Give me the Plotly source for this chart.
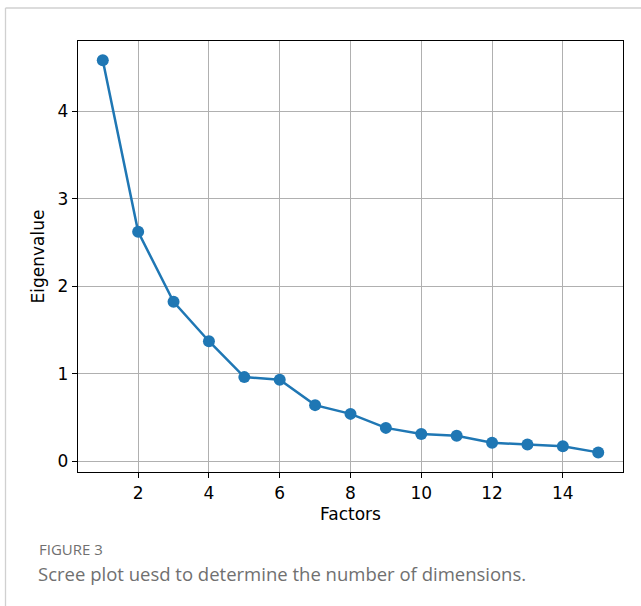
import plotly.graph_objects as go

factors = list(range(1, 16))
eigenvalues = [4.58, 2.62, 1.82, 1.37, 0.96, 0.93, 0.64, 0.54, 0.38, 0.31, 0.29, 0.21, 0.19, 0.17, 0.10]
x_ticks = [2, 4, 6, 8, 10, 12, 14]
y_ticks = [0, 1, 2, 3, 4]
caption_label = "FIGURE 3"
caption_text = "Scree plot uesd to determine the number of dimensions."

W, H = 641, 606
L, R, T, B = 78, 623, 41, 472
pw, ph = R - L, B - T

def px(x):
    return (x - L) / pw

def py(y):
    return (B - y) / ph

fig = go.Figure()
fig.add_trace(go.Scatter(
    x=factors, y=eigenvalues, mode="lines+markers",
    line=dict(color="#1f77b4", width=2.5),
    marker=dict(color="#1f77b4", size=12),
    showlegend=False,
))

axis_font = dict(family="DejaVu Sans", size=17, color="#000")
fig.update_xaxes(
    range=[0.3, 15.7], tickvals=x_ticks, ticktext=[str(v) for v in x_ticks],
    showgrid=True, gridcolor="#b0b0b0", gridwidth=1.3,
    showline=True, linecolor="#000", linewidth=1.3, mirror=True,
    ticks="outside", ticklen=5, tickwidth=1.2, tickcolor="#000",
    tickfont=axis_font, zeroline=False,
    title=dict(text="Factors", font=axis_font, standoff=6),
)
fig.update_yaxes(
    range=[-0.124, 4.8], tickvals=y_ticks, ticktext=[str(v) for v in y_ticks],
    showgrid=True, gridcolor="#b0b0b0", gridwidth=1.3,
    showline=True, linecolor="#000", linewidth=1.3, mirror=True,
    ticks="outside", ticklen=5, tickwidth=1.2, tickcolor="#000",
    tickfont=axis_font, zeroline=False,
    title=dict(text="Eigenvalue", font=axis_font, standoff=8),
)

# outer frame lines (top and left)
fig.add_shape(type="line", xref="paper", yref="paper",
              x0=px(5.5), x1=px(641), y0=py(8), y1=py(8),
              line=dict(color="#d0d0d0", width=1.3))
fig.add_shape(type="line", xref="paper", yref="paper",
              x0=px(5.5), x1=px(5.5), y0=py(8), y1=py(606),
              line=dict(color="#d0d0d0", width=1.3))

fig.add_annotation(text=caption_label, xref="paper", yref="paper",
                   x=px(37), y=py(549), xanchor="left", yanchor="middle",
                   showarrow=False, font=dict(family="Open Sans", size=15, color="#707070"))
fig.add_annotation(text=caption_text, xref="paper", yref="paper",
                   x=px(36), y=py(573), xanchor="left", yanchor="middle",
                   showarrow=False, font=dict(family="Open Sans", size=18.5, color="#707070"))

fig.update_layout(
    width=W, height=H,
    margin=dict(l=L, r=W - R, t=T, b=H - B),
    paper_bgcolor="white", plot_bgcolor="white",
)
fig.write_html("out.html", config={"displayModeBar": False},
               post_script="document.body.style.margin='0px';")
